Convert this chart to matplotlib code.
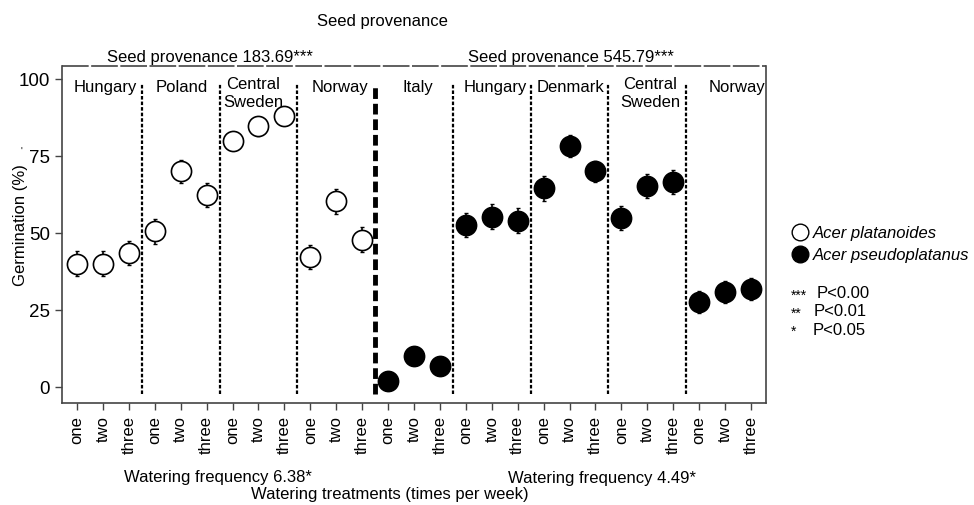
import numpy as np
import matplotlib.pyplot as plt

plt.rcParams['font.family'] = ['Liberation Sans', 'DejaVu Sans']

# treatments on x axis
tick_labels = ['one', 'two', 'three'] * 9

# Acer platanoides (positions 1-12)
plat_x = np.arange(1, 13)
plat_y = [40.0, 40.0, 43.5, 50.5, 70.0, 62.3, 79.8, 84.6, 88.0, 42.2, 60.3, 47.8]
plat_err = [4, 4, 4, 4, 3.8, 4, 3, 3, 3, 4, 4, 4]

# Acer pseudoplatanus (positions 13-27)
pseu_x = np.arange(13, 28)
pseu_y = [2.0, 10.2, 6.9, 52.6, 55.3, 54.0, 64.5, 78.3, 70.0, 54.8, 65.2, 66.5, 27.5, 30.9, 31.8]
pseu_err = [1.5, 2, 2, 4, 4, 4, 4, 3.5, 3.5, 4, 4, 4, 3.5, 3.5, 3.5]

country_names = ['Hungary', 'Poland', 'Central\nSweden', 'Norway', 'Italy',
                 'Hungary', 'Denmark', 'Central\nSweden', 'Norway']
country_pos = [2.1, 5.05, 7.8, 11.15, 14.15, 17.15, 20.05, 23.1, 26.45]
dividers = [3.5, 6.5, 9.5, 15.5, 18.5, 21.5, 24.5]

fig = plt.figure(figsize=(9.74, 5.06), dpi=100)
ax = fig.add_axes([0.0637, 0.2016, 0.7227, 0.666])

ax.errorbar(plat_x, plat_y, yerr=plat_err, fmt='none', ecolor='black',
            elinewidth=1.2, capsize=1.5, zorder=2)
ax.plot(plat_x, plat_y, 'o', ms=14.5, mfc='white', mec='black', mew=1.2, zorder=3)
ax.errorbar(pseu_x, pseu_y, yerr=pseu_err, fmt='none', ecolor='black',
            elinewidth=1.2, capsize=1.5, zorder=2)
ax.plot(pseu_x, pseu_y, 'o', ms=14.5, mfc='black', mec='black', mew=1.2, zorder=3)

for d in dividers:
    ax.plot([d, d], [-2.3, 98.5], color='black', lw=1.6, ls=(0, (1.6, 0.9)), zorder=1)
ax.plot([12.5, 12.5], [-2.3, 98.5], color='black', lw=3.5, ls=(0, (2.2, 1.0)), zorder=1)

for name, pos in zip(country_names, country_pos):
    ax.text(pos, 95.6 if '\n' in name else 97.4, name, ha='center', va='center',
            fontsize=12, linespacing=1.2)

ax.set_xlim(0.42, 27.58)
ax.set_ylim(-5.2, 104.2)
ax.set_xticks(np.arange(1, 28))
ax.set_xticklabels(tick_labels, rotation=90, fontsize=12)
ax.set_yticks([0, 25, 50, 75, 100])
ax.tick_params(axis='both', length=5, width=1, color='#444444')
ax.tick_params(axis='y', labelsize=13.5)

for s in ['left', 'bottom', 'right']:
    ax.spines[s].set_color('#444444')
    ax.spines[s].set_linewidth(1.2)
ax.spines['top'].set_visible(False)
ax.plot([0.42, 27.58], [104.2, 104.2], color='#444444', lw=1.2,
        ls=(0, (16, 1.5)), clip_on=False)

fig.text(0.021, 0.555, 'Germination (%)', rotation=90, ha='center', va='center', fontsize=12)
fig.text(0.0215, 0.70, "'", ha='center', va='center', fontsize=7)
fig.text(0.393, 0.958, 'Seed provenance', ha='center', va='center', fontsize=12)
fig.text(0.216, 0.886, 'Seed provenance 183.69***', ha='center', va='center', fontsize=12)
fig.text(0.586, 0.886, 'Seed provenance 545.79***', ha='center', va='center', fontsize=12)
fig.text(0.224, 0.057, 'Watering frequency 6.38*', ha='center', va='center', fontsize=12)
fig.text(0.618, 0.055, 'Watering frequency 4.49*', ha='center', va='center', fontsize=12)
fig.text(0.40, 0.022, 'Watering treatments (times per week)', ha='center', va='center', fontsize=12)

# legend
fig.lines.append(plt.Line2D([0.8214], [0.5395], marker='o', ms=12, mfc='white',
                            mec='black', mew=1.0, transform=fig.transFigure))
fig.lines.append(plt.Line2D([0.8214], [0.4960], marker='o', ms=12, mfc='black',
                            mec='black', mew=1.0, transform=fig.transFigure))
fig.text(0.8347, 0.5395, 'Acer platanoides', style='italic', va='center', fontsize=12)
fig.text(0.8347, 0.4960, 'Acer pseudoplatanus', style='italic', va='center', fontsize=12)
fig.text(0.812, 0.4160, '***', va='center', fontsize=10)
fig.text(0.8385, 0.4190, 'P<0.00', va='center', fontsize=12)
fig.text(0.812, 0.3800, '**', va='center', fontsize=10)
fig.text(0.8350, 0.3834, 'P<0.01', va='center', fontsize=12)
fig.text(0.812, 0.3445, '*', va='center', fontsize=10)
fig.text(0.8340, 0.3478, 'P<0.05', va='center', fontsize=12)

fig.savefig('out.png', dpi=100)
